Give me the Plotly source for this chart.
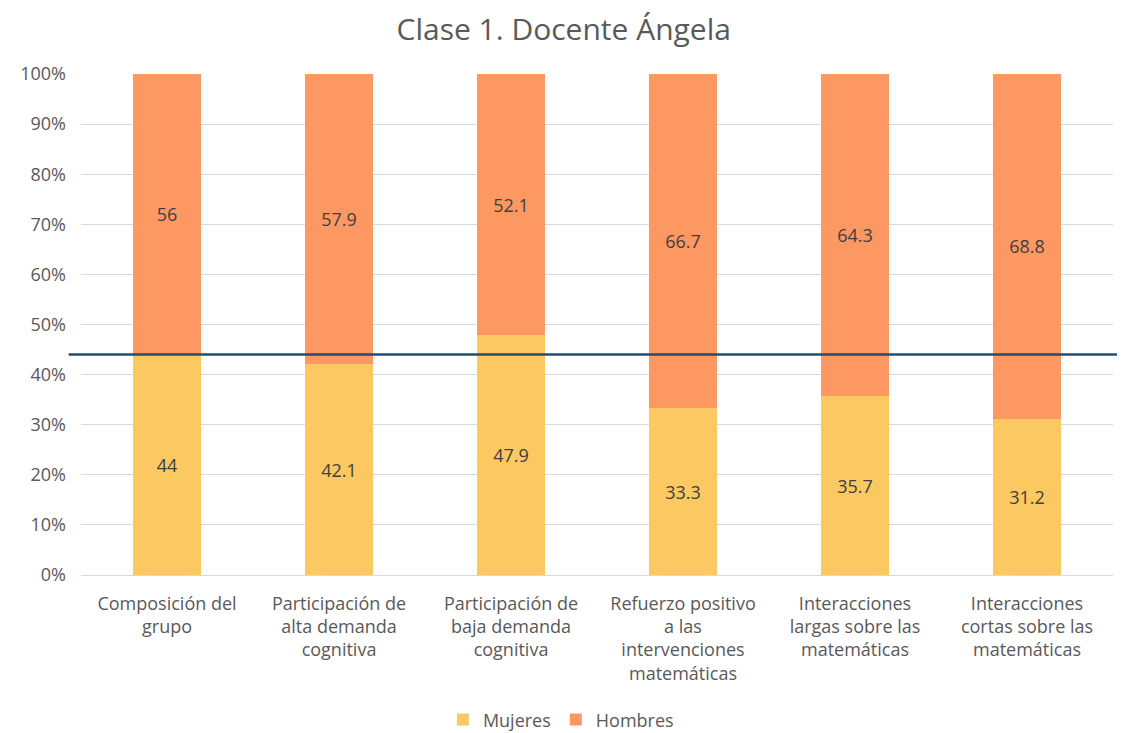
import plotly.graph_objects as go

categories = [
    "Composición del<br>grupo",
    "Participación de<br>alta demanda<br>cognitiva",
    "Participación de<br>baja demanda<br>cognitiva",
    "Refuerzo positivo<br>a las<br>intervenciones<br>matemáticas",
    "Interacciones<br>largas sobre las<br>matemáticas",
    "Interacciones<br>cortas sobre las<br>matemáticas",
]
mujeres = [44, 42.1, 47.9, 33.3, 35.7, 31.2]
hombres = [56, 57.9, 52.1, 66.7, 64.3, 68.8]
reference_level = 44  # composición del grupo (mujeres)
y_ticks = [0, 10, 20, 30, 40, 50, 60, 70, 80, 90, 100]
y_tick_labels = [f"{v}%" for v in y_ticks]

font_family = "'Open Sans', sans-serif"
text_color = "#595959"

fig = go.Figure()
fig.add_trace(go.Bar(
    name="Mujeres", x=categories, y=mujeres,
    marker=dict(color="#FBC862", line=dict(width=0)),
    text=[f"{v:g}" for v in mujeres], textposition="inside",
    insidetextanchor="middle",
    textfont=dict(color="#404040", size=18, family=font_family),
))
fig.add_trace(go.Bar(
    name="Hombres", x=categories, y=hombres,
    marker=dict(color="#FD9862", line=dict(width=0)),
    text=[f"{v:g}" for v in hombres], textposition="inside",
    insidetextanchor="middle",
    textfont=dict(color="#404040", size=18, family=font_family),
))

fig.add_shape(
    type="line", xref="paper", yref="y",
    x0=-0.012, x1=1.03, y0=reference_level, y1=reference_level,
    line=dict(color="#1F4E6E", width=2.5),
)

fig.update_layout(
    barmode="stack",
    bargap=0.6,
    width=1125, height=733,
    margin=dict(l=73, r=20, t=66, b=166, autoexpand=False),
    paper_bgcolor="white", plot_bgcolor="white",
    font=dict(family=font_family, color=text_color, size=18),
    title=dict(text="Clase 1. Docente Ángela", x=0.494, xanchor="center",
               xref="container", yref="container",
               y=0.971, yanchor="middle", automargin=False,
               font=dict(size=30, color=text_color, family=font_family)),
    legend=dict(orientation="h", x=0.465, xanchor="center", y=-0.289, yanchor="middle",
                xref="paper",
                font=dict(size=18, color=text_color), itemwidth=30,
                traceorder="normal"),
    xaxis=dict(showgrid=False, showline=True, linecolor="#D9D9D9", linewidth=1,
               automargin=False, ticklabelstandoff=12,
               tickfont=dict(size=18, color=text_color), ticks=""),
    yaxis=dict(range=[0, 100], tickvals=y_ticks, ticktext=y_tick_labels,
               automargin=False,
               showgrid=True, gridcolor="#D9D9D9", gridwidth=1, zeroline=False,
               tickfont=dict(size=18, color=text_color), ticklabelstandoff=14),
)

fig.write_html("out.html")
